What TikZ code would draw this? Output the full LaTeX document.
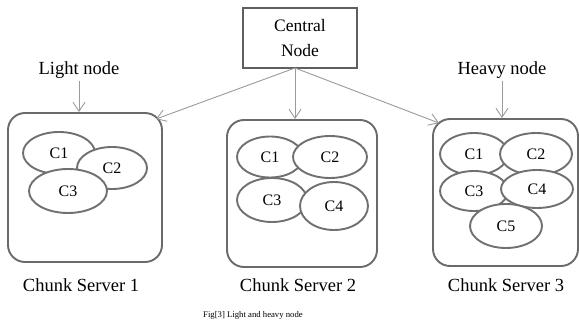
\documentclass[tikz,border=0pt]{standalone}
\usepackage{fontspec}
\setmainfont{Liberation Serif}
\usetikzlibrary{shapes.geometric,arrows.meta}
\definecolor{boxgray}{HTML}{6A6A6A}
\definecolor{elgray}{HTML}{707070}
\definecolor{arrgray}{HTML}{9A9A9A}
\tikzset{
  server/.style={draw=boxgray, line width=1.9pt, rounded corners=17pt, inner sep=0pt},
  chunk/.style={ellipse, draw=elgray, line width=1.9pt, fill=white, inner sep=0pt, font=\fontsize{16}{18}\selectfont},
  label/.style={inner sep=2pt, font=\fontsize{18.5}{20}\selectfont},
  link/.style={draw=arrgray, line width=0.9pt, -{Straight Barb[length=9pt,width=12pt]}},
  central/.style={draw=boxgray!90!black, line width=1.6pt, minimum width=114pt, minimum height=60pt, align=center, inner sep=0pt, font=\fontsize{17.5}{25}\selectfont},
}
\begin{document}
\begin{tikzpicture}[x=1pt,y=-1pt]
\useasboundingbox (0,0) rectangle (579,329);
% central node
\node[central] (cn) at (300,38) {Central\\Node};
\coordinate (hub) at (295,68);
% servers
\node[server, minimum width=154pt, minimum height=149pt] (s1) at (85,187.5) {};
\node[server, minimum width=150pt, minimum height=147pt] (s2) at (302,193.5) {};
\node[server, minimum width=145pt, minimum height=147pt] (s3) at (505.5,192.5) {};
% chunks server 1
\node[chunk, minimum width=72pt, minimum height=42pt] (a1) at (59,153) {C1};
\node[chunk, minimum width=70pt, minimum height=42pt] (a2) at (112,168) {C2};
\node[chunk, minimum width=78pt, minimum height=44pt] (a3) at (68,191) {C3};
% chunks server 2
\node[chunk, minimum width=66pt, minimum height=41pt] (b1) at (270,157) {C1};
\node[chunk, minimum width=74pt, minimum height=42pt] (b2) at (330,157) {C2};
\node[chunk, minimum width=70pt, minimum height=44pt] (b3) at (272,200) {C3};
\node[chunk, minimum width=68pt, minimum height=48pt] (b4) at (334,206) {C4};
% chunks server 3
\node[chunk, minimum width=68pt, minimum height=42pt] (c1) at (474,154) {C1};
\node[chunk, minimum width=72pt, minimum height=42pt] (c2) at (536,154) {C2};
\node[chunk, minimum width=68pt, minimum height=40pt] (c3) at (474,191) {C3};
\node[chunk, minimum width=72pt, minimum height=38pt] (c4) at (537,189) {C4};
\node[chunk, minimum width=72pt, minimum height=44pt] (c5) at (506,226) {C5};
% labels
\node[label] (light) at (79,70) {Light node};
\node[label] (heavy) at (502,70) {Heavy node};
\node[label] (l1) at (81,285) {Chunk Server 1};
\node[label] (l2) at (298,285) {Chunk Server 2};
\node[label] (l3) at (506,285) {Chunk Server 3};
\node[inner sep=0pt, font=\fontsize{8.7}{10}\selectfont] (cap) at (253,315) {Fig[3] Light and heavy node};
% arrows
\draw[link] (hub) -- ([shift={(-7pt,-7pt)}]s1.north east);
\draw[link] (hub) -- (hub |- s2.north);
\draw[link] (hub) -- ([shift={(7pt,-5pt)}]s3.north west);
\draw[link] (light.south) -- (light.south |- s1.north);
\draw[link] (heavy.south) -- (heavy.south |- s3.north);
\end{tikzpicture}
\end{document}
